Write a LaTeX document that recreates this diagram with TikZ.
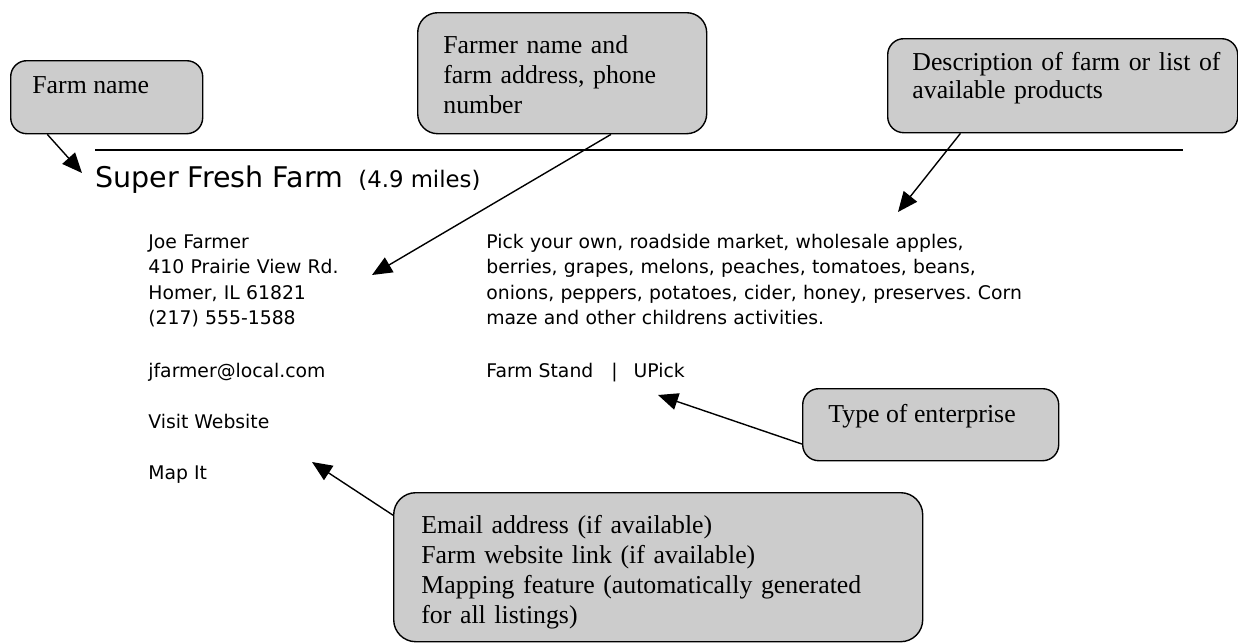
\documentclass[tikz,border=0pt]{standalone}
\usepackage{fontspec}
\setmainfont{Liberation Serif}
\newfontfamily\sansf{DejaVu Sans}
\usetikzlibrary{arrows.meta,calc}
\definecolor{calloutgrey}{RGB}{204,204,204}
\frenchspacing
\begin{document}
\begin{tikzpicture}[x=0.5pt,y=-0.5pt,
  callout/.style={draw=black, line width=0.7pt, fill=calloutgrey, rounded corners=8pt, anchor=north west, inner sep=0pt},
  ctext/.style={anchor=base west, inner sep=0pt, font=\fontsize{12.9}{15}\selectfont, align=left},
  ltext/.style={anchor=base west, inner sep=0pt, font=\sansf\fontsize{9.4}{12.75}\selectfont, align=left},
  pointer/.style={line width=0.7pt, -{Triangle[length=10pt,width=8.5pt]}}]
\useasboundingbox (0,0) rectangle (1238,643);

% callout boxes
\node[callout, minimum width=96pt, minimum height=36.5pt] (fnbox) at (10,60) {};
\node[ctext] (fnlbl) at ($(fnbox.north west)+(22,33)$) {Farm name};

\node[callout, rounded corners=10pt, minimum width=144.5pt, minimum height=60.5pt] (addrbox) at (417,12) {};
\node[ctext, text width=140pt] (addrlbl) at ($(addrbox.north west)+(26,41)$) {Farmer name and\\farm address, phone\\number};

\node[callout, minimum width=175pt, minimum height=47pt] (descbox) at (887,38) {};
\node[ctext, text width=170pt, font=\fontsize{12.9}{14}\selectfont] (desclbl) at ($(descbox.north west)+(25,32)$) {Description of farm or list of\\available products};

\node[callout, minimum width=128pt, minimum height=36pt] (typebox) at (802,388) {};
\node[ctext] (typelbl) at ($(typebox.north west)+(26,34)$) {Type of enterprise};

\node[callout, rounded corners=11pt, minimum width=264.5pt, minimum height=74.5pt] (webbox) at (393,492) {};
\node[ctext, text width=250pt] (weblbl) at ($(webbox.north west)+(28,41)$) {Email address (if available)\\Farm website link (if available)\\Mapping feature (automatically generated\\for all listings)};

% listing
\draw[line width=0.6pt] (95,150) -- (1183,150);
\node[ltext, font=\sansf\fontsize{14.25}{16}\selectfont] (title) at (95,187) {Super Fresh Farm};
\node[ltext, font=\sansf\fontsize{11.4}{14}\selectfont] (miles) at (358,187) {(4.9 miles)};
\node[ltext, text width=150pt] (contact) at (148,248) {Joe Farmer\\410 Prairie View Rd.\\Homer, IL 61821\\(217) 555-1588};
\node[ltext] (email) at (148,377) {jfarmer@local.com};
\node[ltext] (web) at (148,428) {Visit Website};
\node[ltext] (map) at (148,479) {Map It};
\node[ltext, text width=340pt] (desc) at (486,248) {Pick your own, roadside market, wholesale apples,\\berries, grapes, melons, peaches, tomatoes, beans,\\onions, peppers, potatoes, cider, honey, preserves. Corn\\maze and other childrens activities.};
\node[ltext] (enterprise) at (486,377) {Farm Stand\hspace{9pt}|\hspace{8pt}UPick};

% arrow tips
\coordinate (fnTip) at (82,173);
\coordinate (addrTip) at (372,275);
\coordinate (descTip) at (898,212);
\coordinate (typeTip) at (658,395);
\coordinate (mapTip) at (312,462);

\draw[pointer] ($(fnbox.south west)!0.193!(fnbox.south east)$) -- (fnTip);
\draw[pointer] ($(addrbox.south west)!0.668!(addrbox.south east)$) -- (addrTip);
\draw[pointer] ($(descbox.south west)!0.209!(descbox.south east)$) -- (descTip);
\draw[pointer] ($(typebox.north west)!0.764!(typebox.south west)$) -- (typeTip);
\draw[pointer] ($(webbox.north west)!0.154!(webbox.south west)$) -- (mapTip);
\end{tikzpicture}
\end{document}
